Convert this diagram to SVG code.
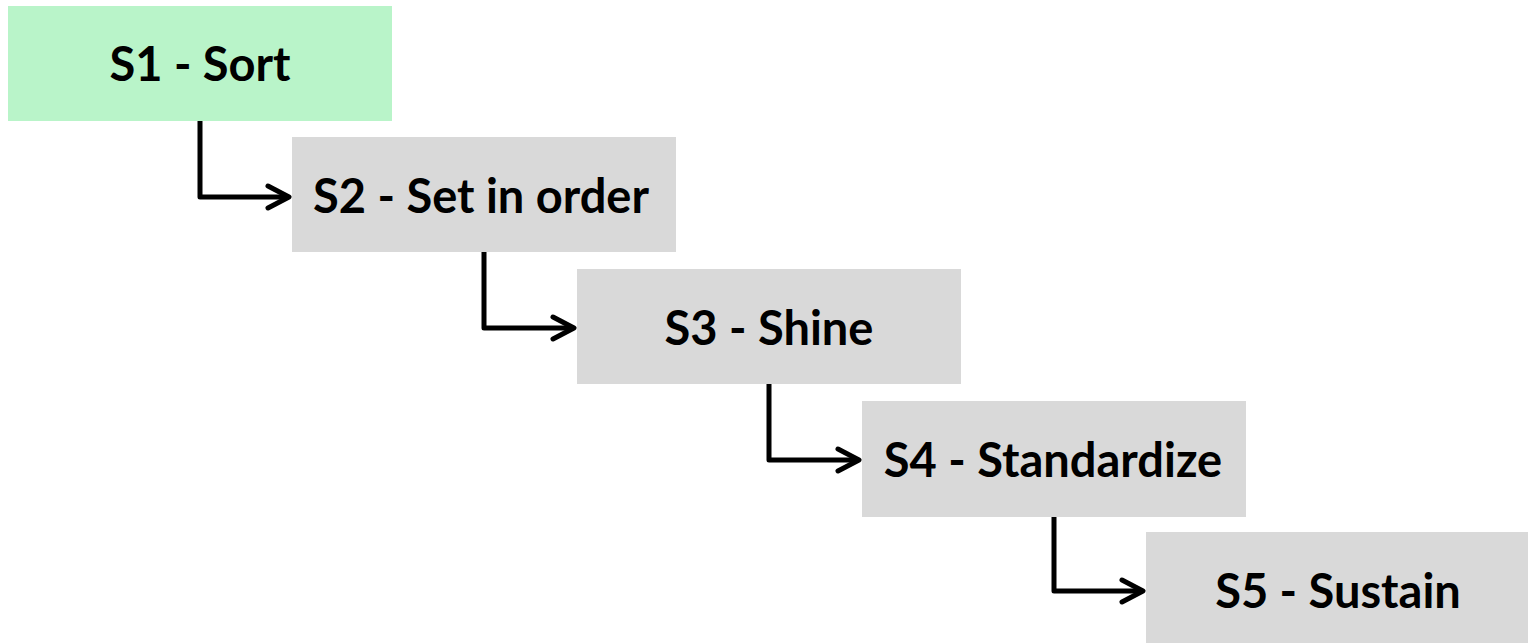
<svg xmlns="http://www.w3.org/2000/svg" width="1528" height="643" viewBox="0 0 1528 643">
  <style>
    .box { fill: #d9d9d9; }
    .box.first { fill: #b9f4c9; }
    .label { font-family: "Lato", "Liberation Sans", sans-serif; font-weight: 700; font-size: 47px; fill: #000; text-anchor: middle; }
    .link { fill: none; stroke: #000; stroke-width: 5; stroke-linejoin: round; marker-end: url(#chevron); }
  </style>
  <defs>
    <marker id="chevron" viewBox="0 0 30 30" refX="26" refY="15" markerWidth="30" markerHeight="30" markerUnits="userSpaceOnUse" orient="auto">
      <path d="M5,4 L26,15 L5,26" fill="none" stroke="#000" stroke-width="5" stroke-linecap="round" stroke-linejoin="round"/>
    </marker>
  </defs>

  <g id="connectors">
    <path class="link" d="M200,121 V197 H289"/>
    <path class="link" d="M484,252 V328 H574"/>
    <path class="link" d="M769,384 V460 H859"/>
    <path class="link" d="M1054,516 V591 H1143"/>
  </g>

  <g id="s1">
    <rect class="box first" x="8" y="6" width="384" height="115"/>
    <text class="label" x="200" y="81">S1 - Sort</text>
  </g>
  <g id="s2">
    <rect class="box" x="292" y="137" width="384" height="115"/>
    <text class="label" x="481" y="213">S2 - Set in order</text>
  </g>
  <g id="s3">
    <rect class="box" x="577" y="269" width="384" height="115"/>
    <text class="label" x="769" y="345">S3 - Shine</text>
  </g>
  <g id="s4">
    <rect class="box" x="862" y="401" width="384" height="116"/>
    <text class="label" x="1053" y="477">S4 - Standardize</text>
  </g>
  <g id="s5">
    <rect class="box" x="1146" y="532" width="384" height="111"/>
    <text class="label" x="1338" y="608">S5 - Sustain</text>
  </g>
</svg>
